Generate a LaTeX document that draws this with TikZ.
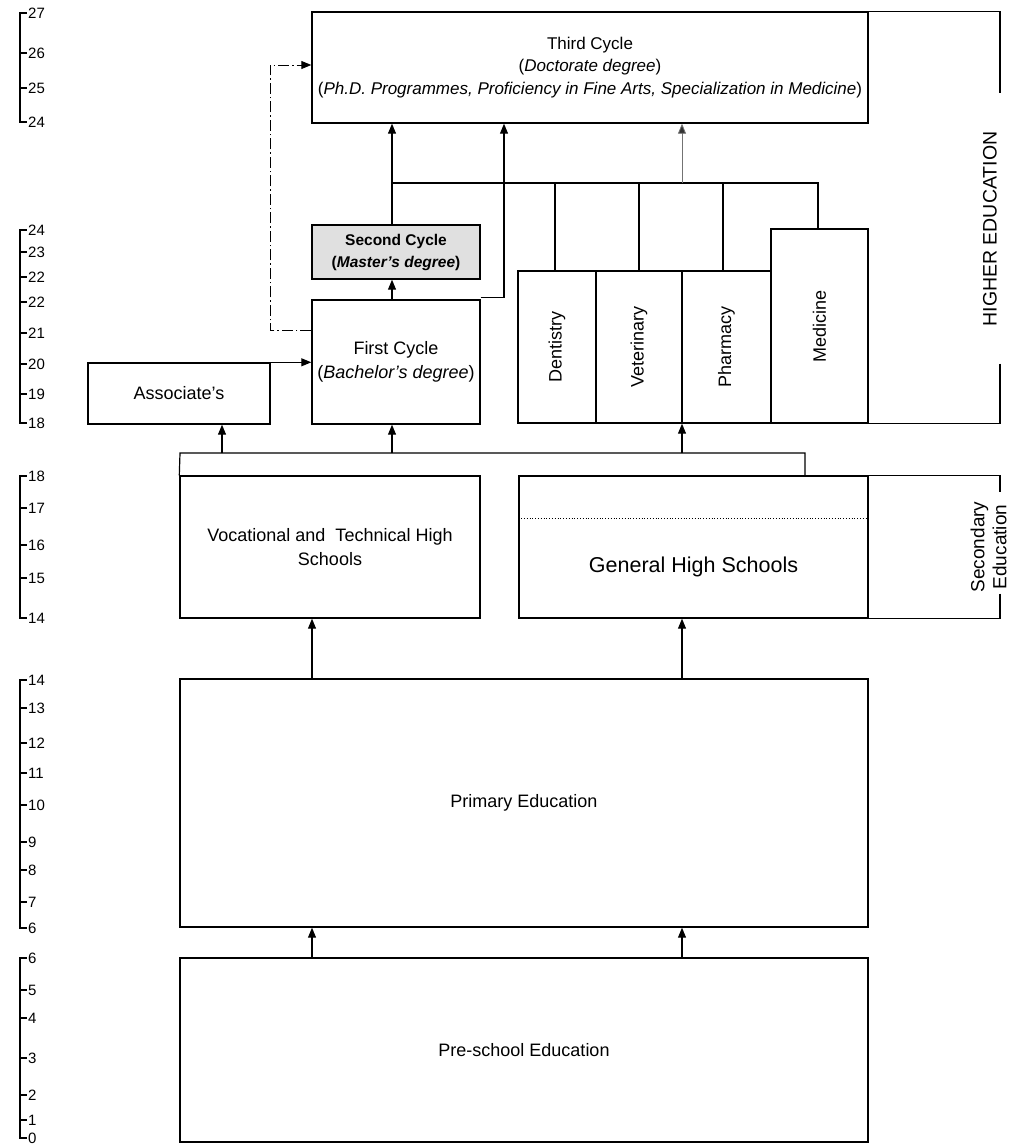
\documentclass[tikz,border=0pt]{standalone}
\usepackage{fontspec}
\setmainfont{Liberation Sans}
\usetikzlibrary{arrows.meta}
\begin{document}
\begin{tikzpicture}[x=1pt,y=-1pt,
  box/.style={draw, line width=1.4pt, inner sep=0pt, align=center, font=\fontsize{18}{24}\selectfont},
  conn/.style={line width=1.2pt},
  arr/.style={line width=1.1pt, -{Triangle[length=10pt,width=8pt]}},
  faint/.style={line width=0.8pt, draw=black!55, -{Triangle[length=10pt,width=8pt,fill=black!80]}},
  dashdot/.style={line width=0.9pt, dash pattern=on 11pt off 3pt on 1.5pt off 3pt, -{Triangle[length=10pt,width=8pt]}},
  scalelbl/.style={anchor=west, inner sep=0pt, font=\fontsize{15}{15}\selectfont},
  sidelbl/.style={inner sep=0pt, align=center, font=\fontsize{19.5}{23}\selectfont}]
\useasboundingbox (0,0) rectangle (1010,1145);

% ---------- age scales ----------
\foreach \top/\bot/\list in {13/122/{13/27,53/26,88/25,122/24},
                            230/423/{230/24,252/23,277/22,302/22,333/21,364/20,394/19,423/18},
                            476/618/{476/18,508/17,545/16,578/15,618/14},
                            680/928/{680/14,708/13,743/12,773/11,805/10,842/9,870/8,902/7,928/6},
                            958/1138/{958/6,990/5,1018/4,1058/3,1095/2,1120/1,1138/0}}{
  \draw[line width=1.2pt] (20,\top) -- (20,\bot);
  \foreach \yy/\lab in \list {
    \draw[line width=1.2pt] (19.4,\yy) -- (27,\yy);
    \node[scalelbl] at (28,\yy) {\lab};
  }
}

% ---------- column coordinates ----------
\coordinate (colA) at (312,0);
\coordinate (colB) at (682,0);
\coordinate (colC) at (392,0);
\coordinate (colD) at (222,0);
\coordinate (colE) at (504,0);
\coordinate (frameX) at (1000,0);

% ---------- boxes ----------
\node[box, minimum width=556pt, minimum height=111pt, font=\fontsize{17}{22.5}\selectfont] (third) at (590,67.5)
  {Third Cycle\\(\textit{Doctorate degree})\\(\textit{Ph.D. Programmes, Proficiency in Fine Arts, Specialization in Medicine})};
\node[box, fill=black!12, minimum width=168pt, minimum height=54pt, font=\fontsize{15.5}{22}\bfseries\selectfont] (second) at (396,252)
  {Second Cycle\\(\textit{Master's degree})};
\node[box, minimum width=168pt, minimum height=124pt] (first) at (396,362)
  {First Cycle\\(\textit{Bachelor's degree})};
\node[box, minimum width=182pt, minimum height=61pt] (assoc) at (179,393.5) {Associate's};

\node[box, minimum width=78pt, minimum height=152pt] (dent) at (557,347) {\rotatebox{90}{Dentistry}};
\node[box, minimum width=86pt, minimum height=152pt] (vet) at (639,347) {\rotatebox{90}{Veterinary}};
\node[box, minimum width=89pt, minimum height=152pt] (pharm) at (726.5,347) {\rotatebox{90}{Pharmacy}};
\node[box, minimum width=97pt, minimum height=194pt] (med) at (819.5,326) {\rotatebox{90}{Medicine}};

\node[box, minimum width=300pt, minimum height=142pt] (voc) at (330,547)
  {Vocational and\ \ Technical High\\Schools};
\node[box, minimum width=349pt, minimum height=142pt] (gen) at (693.5,547) {};
\node[font=\fontsize{21.5}{24}\selectfont, inner sep=0pt] (gentxt) at (693.5,567) {General High Schools};
\draw[line width=0.8pt, dotted] ([yshift=-43pt]gen.north west) -- ([yshift=-43pt]gen.north east);

\node[box, minimum width=688pt, minimum height=248pt] (prim) at (524,803) {Primary Education};
\node[box, minimum width=688pt, minimum height=184pt] (pre) at (524,1050) {Pre-school Education};

% ---------- side frames ----------
\node[sidelbl] (helbl) at (990,229) {\rotatebox{90}{HIGHER EDUCATION}};
\draw[conn] (third.north east) -- (third.north east -| frameX) -- ++(0,82);
\draw[conn] ([yshift=60pt]med.south east -| frameX) -- (med.south east -| frameX) -- (med.south east);

\node[sidelbl, font=\fontsize{19}{22}\selectfont] (selbl) at (991,547) {\rotatebox{90}{\begin{tabular}{@{}c@{}}Secondary\\Education\end{tabular}}};
\draw[conn] (gen.north east) -- (gen.north east -| frameX) -- ++(0,17);
\draw[conn] ([yshift=25pt]gen.south east -| frameX) -- (gen.south east -| frameX) -- (gen.south east);

% ---------- connectors ----------
\draw[arr] (pre.north -| colA) -- (prim.south -| colA);
\draw[arr] (pre.north -| colB) -- (prim.south -| colB);
\draw[arr] (prim.north -| colA) -- (voc.south -| colA);
\draw[arr] (prim.north -| colB) -- (gen.south -| colB);

\coordinate (barL) at (180,453);
\coordinate (barR) at (805,453);
\draw[conn] (voc.north west) -- (barL) -- (barR) -- (barR |- gen.north);
\draw[arr] (barL -| colD) -- (assoc.south -| colD);
\draw[arr] (barL -| colC) -- (first.south -| colC);
\draw[arr] (barL -| colB) -- (vet.south -| colB);

\draw[arr] (assoc.north east) -- (assoc.north east -| first.west);
\draw[arr] (first.north -| colC) -- (second.south -| colC);
\draw[arr] (second.north -| colC) -- (third.south -| colC);
\draw[arr] ([yshift=2pt]first.north east) -- ([yshift=2pt]first.north east -| colE) -- (third.south -| colE);

\coordinate (ddlow) at (270,330);
\coordinate (ddtop) at (270,65);
\draw[dashdot] (first.west |- ddlow) -- (ddlow) -- (ddtop) -- (ddtop -| third.west);

\coordinate (hL) at (392,183);
\coordinate (hR) at (818,183);
\draw[conn] (hL) -- (hR) -- (hR |- med.north);
\draw[conn] ([xshift=-2pt]dent.north) -- ([xshift=-2pt]dent.north |- hL);
\draw[conn] (vet.north) -- (vet.north |- hL);
\draw[conn] ([xshift=-3.5pt]pharm.north) -- ([xshift=-3.5pt]pharm.north |- hL);
\draw[faint] (hL -| colB) -- (third.south -| colB);
\end{tikzpicture}
\end{document}
